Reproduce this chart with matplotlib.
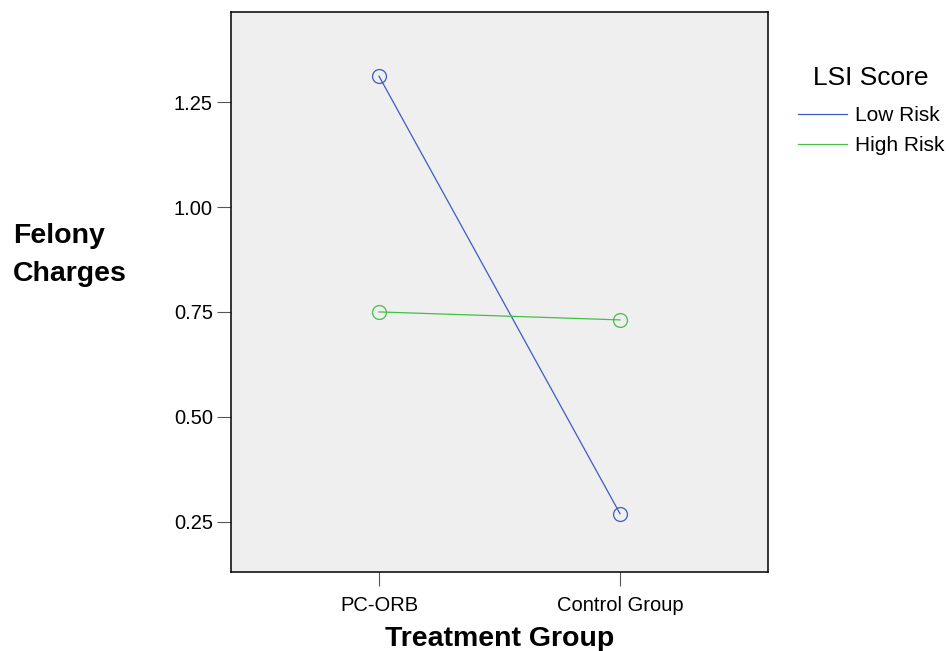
import matplotlib
matplotlib.use('Agg')
import matplotlib.pyplot as plt

plt.rcParams['font.family'] = ['Liberation Sans', 'DejaVu Sans']

groups = ['PC-ORB', 'Control Group']
low_risk = [1.312, 0.269]
high_risk = [0.750, 0.731]
series_names = ['Low Risk', 'High Risk']
yticks = [0.25, 0.50, 0.75, 1.00, 1.25]

W, H = 949, 651
fig = plt.figure(figsize=(W / 100, H / 100), dpi=100)
# axes box in pixels: left 231, right 768, top 12, bottom 572
ax = fig.add_axes([231 / W, 1 - 572 / H, 537 / W, 560 / H])
ax.set_facecolor('#efefef')

x = list(range(len(groups)))
colors = ['#3e5bc2', '#44c044']
for vals, name, c in zip([low_risk, high_risk], series_names, colors):
    ax.plot(x, vals, color=c, lw=0.9, label=name,
            marker='o', markersize=10, markerfacecolor='none', markeredgecolor=c, markeredgewidth=0.9)

ax.set_xlim(-0.614, 1.614)
ax.set_ylim(0.13, 1.465)
ax.set_xticks(x)
ax.set_xticklabels(groups, fontsize=14.5)
ax.set_yticks(yticks)
ax.set_yticklabels(['%.2f' % v for v in yticks], fontsize=14.5)
ax.tick_params(direction='out', length=10, width=0.8, color='#555555', pad=3)
ax.tick_params(axis='x', pad=7)
for s in ax.spines.values():
    s.set_linewidth(1.1)

fig.text(499.5 / W, 1 - 639 / H, 'Treatment Group', fontsize=20.5, fontweight='bold',
         ha='center', va='center')
fig.text(13 / W, 1 - 255 / H, 'Felony\nCharges', fontsize=20.5, fontweight='bold',
         ha='left', va='center', multialignment='left', linespacing=1.6)

# legend title
fig.text(871 / W, 1 - 78 / H, 'LSI Score', fontsize=19, ha='center', va='center')
leg = ax.legend(loc='upper left', bbox_to_anchor=(798 / W, 1 - 106 / H),
                bbox_transform=fig.transFigure, frameon=False, fontsize=15,
                handlelength=2.35, handletextpad=0.38, labelspacing=0.55,
                borderpad=0, borderaxespad=0)
for h in leg.legend_handles:
    h.set_marker('')

fig.savefig('out.png', dpi=100)
